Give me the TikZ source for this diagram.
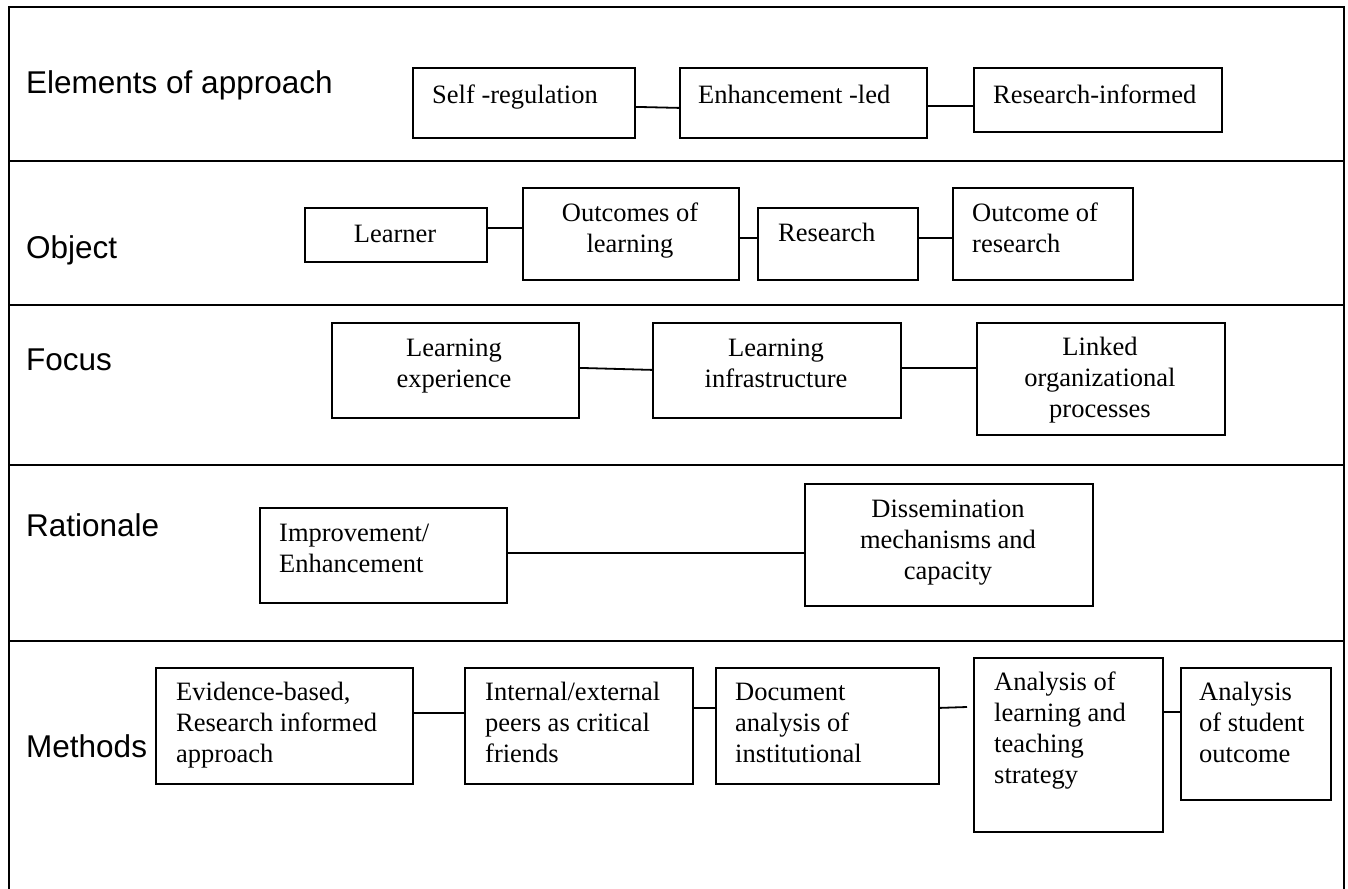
\documentclass[tikz,border=0pt]{standalone}
\usepackage{fontspec}
\setmainfont{Liberation Serif}
\newfontfamily\labelfont{Liberation Sans}
\tikzset{
  frameline/.style={line width=2pt},
  box/.style={draw, line width=1.8pt, inner sep=0pt, anchor=north west},
  link/.style={line width=1.8pt},
  boxtext/.style={inner sep=0pt, font=\fontsize{26.5}{31}\selectfont},
  rowlabel/.style={inner sep=0pt, anchor=base west, font=\labelfont\fontsize{31.5}{38}\selectfont}
}
% \boxat{name}{x1}{y1}{x2}{y2}: rectangle with top-left (x1,y1), bottom-right (x2,y2)
\newcommand\boxat[5]{%
  \pgfmathsetmacro\bw{#4-#2}\pgfmathsetmacro\bh{#5-#3}%
  \node[box, minimum width=\bw pt, minimum height=\bh pt] (#1) at (#2,#3) {};}
\begin{document}
\begin{tikzpicture}[x=1pt, y=-1pt]
\useasboundingbox (0,0) rectangle (1348,888);

% outer frame, open at the bottom
\draw[frameline] (8.5,900) -- (8.5,7.5) -- (1344,7.5) -- (1344,900);
% row dividers
\foreach \yy in {161,305,465,641}
  \draw[frameline] (8.5,\yy) -- (1344,\yy);

% row labels
\node[rowlabel] (lab1) at (26,94) {Elements of approach};
\node[rowlabel] (lab2) at (26,258) {Object};
\node[rowlabel] (lab3) at (26,370) {Focus};
\node[rowlabel] (lab4) at (26,536) {Rationale};
\node[rowlabel] (lab5) at (26,757) {Methods};

% ---- Elements of approach
\boxat{selfreg}{412}{67}{634}{137}
\boxat{enhled}{679}{67}{926}{137}
\boxat{resinf}{973}{67}{1221}{131}
\node[boxtext, anchor=base west] (t11) at (432,103) {Self -regulation};
\node[boxtext, anchor=base west] (t12) at (698,103) {Enhancement -led};
\node[boxtext, anchor=base west] (t13) at (993,103) {Research-informed};
\draw[link] ([yshift=-4pt]selfreg.east) -- ([yshift=-5pt]enhled.west);
\draw[link] ([yshift=-3pt]enhled.east) -- ([yshift=-6pt]resinf.west);

% ---- Object
\boxat{learner}{304}{207}{486}{261}
\boxat{outlearn}{522}{187}{738}{279}
\boxat{research}{757}{207}{917}{279}
\boxat{outres}{952}{187}{1132}{279}
\node[boxtext, anchor=base] (t21) at (395,242) {Learner};
\node[boxtext, anchor=north, align=center] (t22) at (630,199.3) {\strut Outcomes of\\learning};
\node[boxtext, anchor=base west] (t23) at (778,241) {Research};
\node[boxtext, anchor=north west, align=left] (t24) at (972,199.3) {\strut Outcome of\\research};
\draw[link] ([yshift=7pt]learner.east) -- ([yshift=6pt]outlearn.west);
\draw[link] ([yshift=-4pt]outlearn.east) -- ([yshift=6pt]research.west);
\draw[link] ([yshift=6pt]research.east) -- ([yshift=-4pt]outres.west);

% ---- Focus
\boxat{learnexp}{331}{322}{578}{417}
\boxat{learninf}{652}{322}{900}{417}
\boxat{linked}{976}{322}{1224}{434}
\node[boxtext, anchor=north, align=center] (t31) at (454,334.3) {\strut Learning\\experience};
\node[boxtext, anchor=north, align=center] (t32) at (776,334.3) {\strut Learning\\infrastructure};
\node[boxtext, anchor=north, align=center] (t33) at (1100,333.3) {\strut Linked\\organizational\\processes};
\draw[link] ([yshift=2.5pt]learnexp.east) -- ([yshift=0.5pt]learninf.west);
\draw[link] ([yshift=2.5pt]learninf.east) -- ([yshift=11pt]linked.west);

% ---- Rationale
\boxat{improve}{259}{507}{506}{602}
\boxat{dissem}{804}{483}{1092}{605}
\node[boxtext, anchor=north west, align=left] (t41) at (279,519.3) {\strut Improvement/\\Enhancement};
\node[boxtext, anchor=north, align=center] (t42) at (948,495.3) {\strut Dissemination\\mechanisms and\\capacity};
\draw[link] ([yshift=2.5pt]improve.east) -- ([yshift=-8pt]dissem.west);

% ---- Methods
\boxat{evidence}{155}{667}{412}{783}
\boxat{peers}{464}{667}{692}{783}
\boxat{docana}{715}{667}{938}{783}
\boxat{strategy}{973}{657}{1162}{831}
\boxat{student}{1180}{667}{1330}{799}
\node[boxtext, anchor=north west, align=left] (t51) at (176,678.3) {\strut Evidence-based,\\Research informed\\approach};
\node[boxtext, anchor=north west, align=left] (t52) at (485,678.3) {\strut Internal/external\\peers as critical\\friends};
\node[boxtext, anchor=north west, align=left] (t53) at (735,678.3) {\strut Document\\analysis of\\institutional};
\node[boxtext, anchor=north west, align=left] (t54) at (994,668.3) {\strut Analysis of\\learning and\\teaching\\strategy};
\node[boxtext, anchor=north west, align=left] (t55) at (1199,678.3) {\strut Analysis\\of student\\outcome};
\coordinate (docend) at (967,707);
\draw[link] ([yshift=13pt]evidence.east) -- ([yshift=13pt]peers.west);
\draw[link] ([yshift=18pt]peers.east) -- ([yshift=18pt]docana.west);
\draw[link] ([yshift=18pt]docana.east) -- (docend);
\draw[line width=2.6pt] ([yshift=33pt]strategy.east) -- ([yshift=22pt]student.west);
\end{tikzpicture}
\end{document}
